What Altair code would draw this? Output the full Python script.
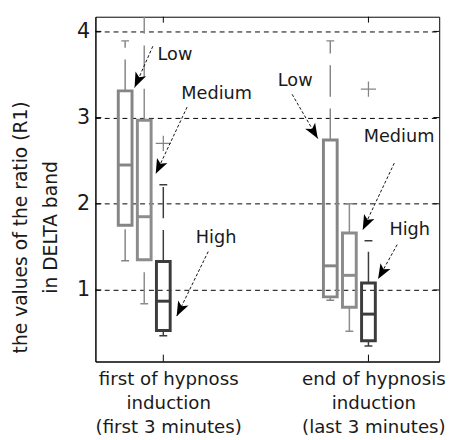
import math
import altair as alt
import pandas as pd

# ---------------- data ----------------
group_pos = [1, 2]
group_labels = [["first of hypnoss", "induction", "(first 3 minutes)"],
                ["end of hypnosis", "induction", "(last 3 minutes)"]]
levels = ["Low", "Medium", "High"]

# rows: group, columns: Low, Medium, High
lower_whisker = [[1.34, 0.84, 0.47], [0.88, 0.52, 0.35]]
q1 = [[1.75, 1.35, 0.53], [0.92, 0.80, 0.41]]
median = [[2.45, 1.85, 0.87], [1.28, 1.17, 0.72]]
q3 = [[3.31, 2.97, 1.33], [2.74, 1.66, 1.08]]
upper_whisker = [[3.89, 4.30, 2.22], [3.89, 2.00, 1.57]]

outlier_group = [1, 2]
outlier_level = ["High", "High"]
outlier_value = [2.70, 3.33]

y_ticks = [1, 2, 3, 4]

# annotation labels (data coordinates): text pos, arrow start, arrow tip
ann_text = ["Low", "Medium", "High", "Low", "Medium", "High"]
ann_tx = [0.972, 1.088, 1.158, 1.558, 1.977, 2.102]
ann_ty = [3.726, 3.27, 1.606, 3.429, 2.768, 1.697]
arr_x0 = [0.949, 1.116, 1.219, 1.628, 2.126, 2.140]
arr_y0 = [3.828, 3.122, 1.446, 3.27, 2.472, 1.526]
arr_x1 = [0.860, 0.963, 1.065, 1.753, 1.972, 2.047]
arr_y1 = [3.349, 2.347, 0.694, 2.757, 1.697, 1.127]

# ---------------- layout ----------------
W, H = 350, 351
XDOM = [0.693, 2.321]
YDOM = [0.17, 4.17]
LEVEL_OFFSET = {"Low": -0.186, "Medium": -0.093, "High": 0.0}
COLORS = ["#858585", "#8c8c8c", "#3c3c3c"]
FONT = "DejaVu Sans"

rows = []
for gi, g in enumerate(group_pos):
    for li, lv in enumerate(levels):
        rows.append(dict(x=g + LEVEL_OFFSET[lv], level=lv,
                         lw=lower_whisker[gi][li], q1=q1[gi][li],
                         med=median[gi][li], q3=q3[gi][li],
                         uw=upper_whisker[gi][li]))
box = pd.DataFrame(rows)

wrows = []
for r in rows:
    wrows.append(dict(x=r["x"], level=r["level"], ys=r["q3"], ye=r["uw"]))
    wrows.append(dict(x=r["x"], level=r["level"], ys=r["lw"], ye=r["q1"]))
whisk = pd.DataFrame(wrows)

caps = pd.DataFrame(
    [dict(x=r["x"], level=r["level"], y=r["uw"]) for r in rows]
    + [dict(x=r["x"], level=r["level"], y=r["lw"]) for r in rows])

outl = pd.DataFrame(dict(
    x=[g + LEVEL_OFFSET[l] for g, l in zip(outlier_group, outlier_level)],
    level=outlier_level, y=outlier_value))

pxx = W / (XDOM[1] - XDOM[0])
pxy = H / (YDOM[1] - YDOM[0])
angles = []
for a, b, c, d in zip(arr_x0, arr_y0, arr_x1, arr_y1):
    dx = (c - a) * pxx
    dy = -(d - b) * pxy
    angles.append(math.degrees(math.atan2(dx, -dy)) % 360)
ann = pd.DataFrame(dict(text=ann_text, tx=ann_tx, ty=ann_ty,
                        x0=arr_x0, y0=arr_y0, x1=arr_x1, y1=arr_y1,
                        angle=angles))

ticks_df = pd.DataFrame(dict(g=group_pos))
yt_df = pd.DataFrame(dict(v=y_ticks))

label_expr = ("datum.value == 1 ? " + str(group_labels[0]) + " : " + str(group_labels[1]))

xscale = alt.Scale(domain=XDOM, nice=False, zero=False)
yscale = alt.Scale(domain=YDOM, nice=False, zero=False)
xaxis = alt.Axis(values=group_pos, labelExpr=label_expr, grid=False, ticks=False,
                 title=None, labelFontSize=18.5, labelLineHeight=24.5, labelPadding=8,
                 labelOffset=5, labelFont=FONT, labelColor="#1a1a1a",
                 domainColor="black", labelFlush=False, labelOverlap=False)
yaxis = alt.Axis(values=y_ticks, grid=True, gridDash=[5, 4], gridColor="black",
                 gridOpacity=1, gridWidth=1, ticks=False, labelFontSize=21,
                 labelPadding=6, labelFont=FONT, labelColor="#1a1a1a",
                 domainColor="black",
                 title=["the values of the ratio (R1)", "in DELTA band"],
                 titleFont=FONT, titleFontSize=19, titleFontWeight="normal",
                 titleLineHeight=30, titleColor="#1a1a1a", titleAngle=270,
                 titleBaseline="bottom", titleX=-66, titleY=214, titleAlign="center")


def X(f):
    return alt.X(f, type="quantitative", scale=xscale, axis=xaxis)


def Y(f):
    return alt.Y(f, type="quantitative", scale=yscale, axis=yaxis)


col = alt.Color("level:N", scale=alt.Scale(domain=levels, range=COLORS), legend=None)

whisker_layer = alt.Chart(whisk).mark_rule(
    strokeDash=[32, 12], strokeWidth=1.5, clip=True).encode(
    x=X("x"), y=Y("ys"), y2="ye", color=col)

cap_layer = alt.Chart(caps).mark_tick(
    orient="horizontal", size=8, thickness=1.5, clip=True, opacity=1).encode(
    x=X("x"), y=Y("y"), color=col)

box_layer = alt.Chart(box).mark_bar(
    filled=False, size=14, strokeWidth=3, clip=True).encode(
    x=X("x"), y=Y("q1"), y2="q3", stroke=alt.Stroke("level:N",
        scale=alt.Scale(domain=levels, range=COLORS), legend=None))

med_layer = alt.Chart(box).mark_tick(
    orient="horizontal", size=15, thickness=3, opacity=1).encode(
    x=X("x"), y=Y("med"), color=col)

out_layer = alt.Chart(outl).mark_point(
    shape="M-1,0L1,0M0,-1L0,1", size=240, strokeWidth=1.3, filled=False,
    opacity=1, color="#858585").encode(x=X("x"), y=Y("y"))

arrow_lines = alt.Chart(ann).mark_rule(
    strokeDash=[3, 2], strokeWidth=1, color="#111").encode(
    x=X("x0"), y=Y("y0"), x2="x1", y2="y1")

arrow_heads = alt.Chart(ann).mark_point(
    shape="M0,0L-0.62,1.6L0,1.2L0.62,1.6Z", size=360, filled=True,
    color="#000", opacity=1, strokeWidth=0).encode(
    x=X("x1"), y=Y("y1"), angle=alt.Angle("angle:Q", scale=None))

ann_text_layer = alt.Chart(ann).mark_text(
    align="left", baseline="middle", font=FONT, fontSize=18,
    color="#1a1a1a").encode(x=X("tx"), y=Y("ty"), text="text:N")

xt_bottom = alt.Chart(ticks_df).mark_rule(color="black").encode(
    x=X("g"), y=alt.value(H), y2=alt.value(H - 7))
xt_top = alt.Chart(ticks_df).mark_rule(color="black").encode(
    x=X("g"), y=alt.value(0), y2=alt.value(6))
yt_left = alt.Chart(yt_df).mark_rule(color="black").encode(
    y=Y("v"), x=alt.value(0), x2=alt.value(6))
yt_right = alt.Chart(yt_df).mark_rule(color="black").encode(
    y=Y("v"), x=alt.value(W - 6), x2=alt.value(W))

chart = alt.layer(
    whisker_layer, cap_layer, box_layer, med_layer, out_layer,
    arrow_lines, arrow_heads, ann_text_layer,
    xt_bottom, xt_top, yt_left, yt_right
).properties(
    width=W, height=H,
    autosize=alt.AutoSizeParams(type="none"),
    padding={"left": 89, "top": 5, "right": 12, "bottom": 76},
    background="white",
).configure_view(stroke="black", strokeWidth=1)

chart.save("out.html", embed_options={"renderer": "svg", "actions": False})
